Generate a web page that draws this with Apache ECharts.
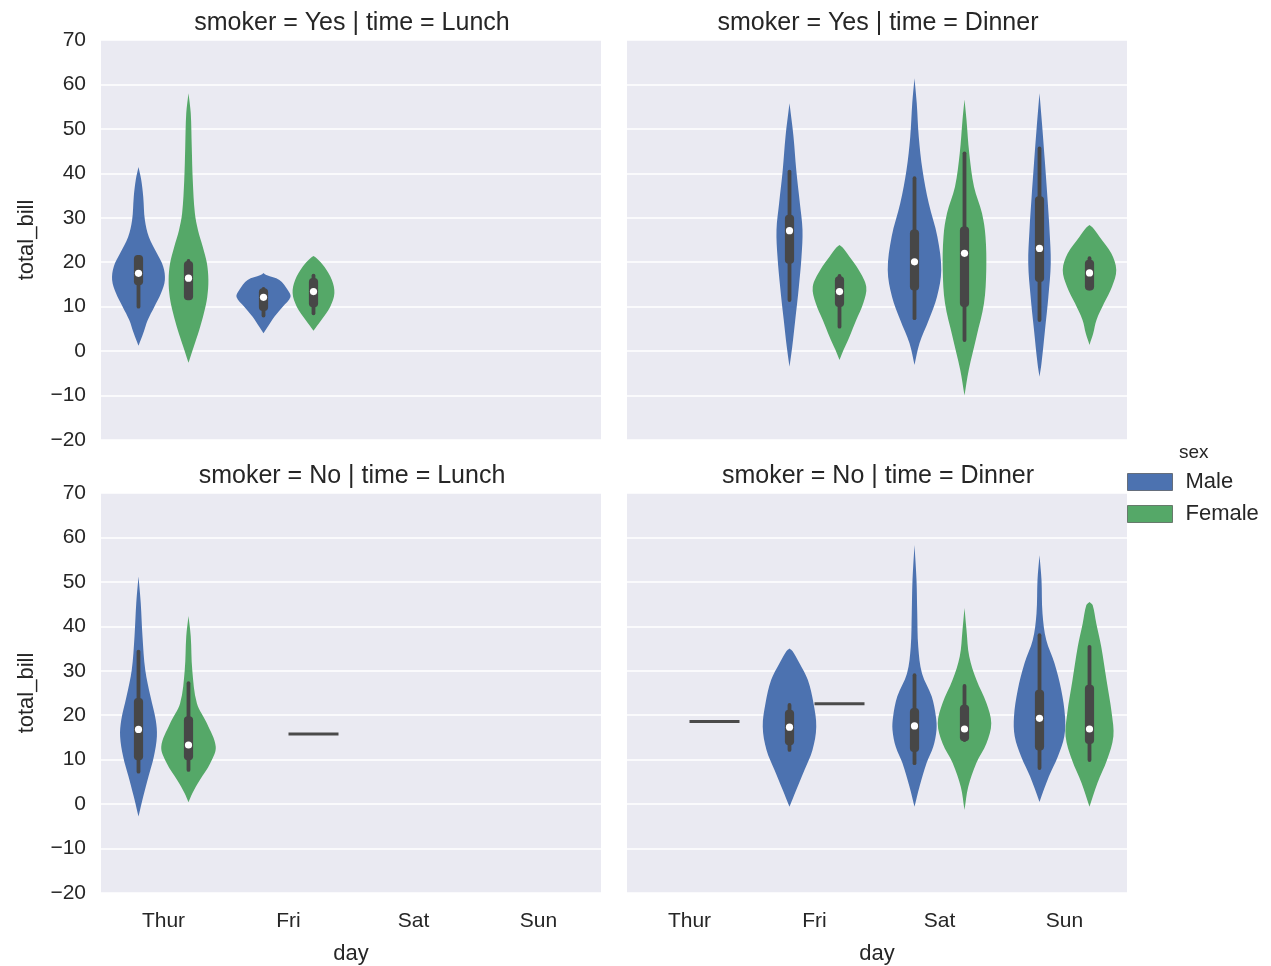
<!DOCTYPE html>
<html>
<head>
<meta charset="utf-8">
<title>total_bill by day, sex, smoker and time</title>
<script src="https://cdn.jsdelivr.net/npm/echarts@6/dist/echarts.min.js"></script>
<style>
  html, body { margin: 0; padding: 0; background: #ffffff; }
  #chart { width: 1271px; height: 966px; }
</style>
</head>
<body>
<div id="chart"></div>
<script>
// Categories and facets
const days = ['Thur', 'Fri', 'Sat', 'Sun'];
const sexes = ['Male', 'Female'];
const panelTitles = [
  'smoker = Yes | time = Lunch',
  'smoker = Yes | time = Dinner',
  'smoker = No | time = Lunch',
  'smoker = No | time = Dinner'
];
const yTicks = { min: -20, max: 70, step: 10 };

// Density outlines: [total_bill, half-width as % of one day's band]
const yesLunchThurMale = [[41.4,0],[38.5,2.2],[34.7,3.8],[29.5,5.1],[25.7,8.3],[22,14.7],[19,19.8],[16,21.1],[13,18],[10,12.7],[7,7.4],[4,3.8],[1.2,0]];
const yesLunchThurFemale = [[58,0],[53.5,1.8],[46,2.6],[38.5,3.4],[31,5.1],[27.2,7.6],[23.5,11.4],[19.8,14.7],[16,15.9],[12.2,15],[8.5,12.3],[4.75,8.6],[1,4.2],[-2.6,0]];
const yesLunchFriMale = [[17.6,0],[17.1,2.3],[16,12.7],[13.75,19.4],[12.2,21.6],[10,15.4],[7.75,8.7],[5.5,3.4],[4,0]];
const yesLunchFriFemale = [[21.4,0],[20.9,2.5],[19,8.7],[16,14.7],[13,16.7],[10,13.4],[7,6.3],[4.6,0]];

const yesDinnerFriMale = [[55.75,0],[48.25,3.2],[40.75,5.4],[33.25,8.3],[27.25,10.4],[21.25,9.6],[14.5,7.5],[7,4.6],[1,2.2],[-3.5,0]];
const yesDinnerFriFemale = [[23.9,0],[23.3,2.5],[21.25,8],[18.25,15.4],[14.5,21.4],[10.75,19],[7,13.4],[3.25,8],[0.25,3.2],[-2,0]];
const yesDinnerSatMale = [[61.4,0],[55.75,1.8],[48.25,3.4],[40.75,6.4],[33.25,11.4],[25.75,18.3],[18.25,21.4],[12.25,18],[7,11.4],[1.75,4],[-3.1,0]];
const yesDinnerSatFemale = [[56.6,0],[52,1.6],[44.5,3.8],[37,7.6],[31,14],[25.75,16.8],[18.25,17.4],[10.75,15.6],[3.25,9.6],[-4.25,3.4],[-10,0]];
const yesDinnerSunMale = [[58,0],[49.75,2.4],[42.25,4.4],[34.75,6.3],[27.25,8],[19.75,9],[12.25,7.1],[4.75,4.4],[-2.75,1.6],[-5.75,0]];
const yesDinnerSunFemale = [[28.4,0],[27.8,2.5],[25.75,8],[22,17.4],[18.25,21.4],[14.5,18],[10.75,11.6],[7,5.6],[4,3],[1.4,0]];

const noLunchThurMale = [[51.2,0],[45.2,1.8],[37.7,3.2],[30.2,5.4],[24.2,9.6],[18.9,13.8],[15.2,14.7],[10.7,12.3],[6.2,8],[1.7,3.8],[-2.8,0]];
const noLunchThurFemale = [[42.3,0],[37.7,1.8],[30.2,3],[22.7,6.7],[18.2,14.7],[12.9,21.8],[9.2,17.4],[5.4,9.1],[2.4,3],[0.4,0]];

const noDinnerFriMale = [[35,0],[34.4,2.5],[31.7,8],[27.9,14.7],[22.7,19.2],[17.4,21.4],[12.2,18.4],[7.7,12],[3.2,5.4],[-0.6,0]];
const noDinnerSatMale = [[58.3,0],[50.4,1.6],[42.9,2.2],[35.4,3],[29.4,6],[24.2,13.8],[19.7,17.1],[16.7,17.6],[12.9,15],[9.2,9.6],[3.9,4],[-0.6,0]];
const noDinnerSatFemale = [[44.1,0],[39.2,1.6],[33.2,3.8],[27.9,9.6],[22.7,17.6],[18.2,21.4],[13.7,17.6],[9.2,9.4],[3.9,3],[-1.3,0]];
const noDinnerSunMale = [[56,0],[50.4,1.6],[42.9,2.4],[36.9,5.4],[31.7,12],[25.7,17.4],[19.7,20.4],[15.2,19.8],[10.7,14.7],[6.2,7.5],[0.5,0]];
const noDinnerSunFemale = [[45.5,0],[44.8,2.5],[40.7,5.4],[35.4,9.4],[27.9,13.6],[20.4,17.8],[15.2,19.1],[9.9,14],[4.7,6.3],[-0.6,0]];

// Inner boxes: [lower whisker, q1, median, q3, upper whisker]
const yesLunchThurMaleBox = [10, 15.25, 17.5, 21.2, 21.2];
const yesLunchThurFemaleBox = [11.9, 11.9, 16.4, 19.8, 20.3];
const yesLunchFriMaleBox = [8, 9.5, 12.1, 13.7, 14];
const yesLunchFriFemaleBox = [8.5, 10.3, 13.4, 16, 17];
const yesDinnerFriMaleBox = [11.5, 20.1, 27.1, 30.25, 40.4];
const yesDinnerFriFemaleBox = [5.5, 10.4, 13.4, 16.4, 16.9];
const yesDinnerSatMaleBox = [7.4, 14.1, 20.1, 26.9, 38.9];
const yesDinnerSatFemaleBox = [2.5, 10.4, 22, 27.6, 44.5];
const yesDinnerSunMaleBox = [7, 16, 23.1, 34.4, 45.6];
const yesDinnerSunFemaleBox = [14.1, 14.1, 17.6, 20.1, 20.9];
const noLunchThurMaleBox = [7.3, 10.3, 16.8, 23.4, 34.3];
const noLunchThurFemaleBox = [7.7, 10.3, 13.3, 19.3, 27.2];
const noDinnerFriMaleBox = [12.2, 13.7, 17.3, 20.8, 22.3];
const noDinnerSatMaleBox = [9.2, 12.2, 17.6, 21.2, 29];
const noDinnerSatFemaleBox = [14.4, 14.6, 16.9, 21.9, 26.6];
const noDinnerSunMaleBox = [8.1, 12.5, 19.3, 25.3, 38];
const noDinnerSunFemaleBox = [9.9, 14, 16.9, 26.4, 35.4];

// Groups holding one bill only: [panel, day, sex, total_bill]
const singleBills = [
  [2, 'Fri', 'Female', 15.8],
  [3, 'Thur', 'Female', 18.6],
  [3, 'Fri', 'Female', 22.6]
];

// Which outline and box belong to each panel / day / sex
const violins = [
  [0, 'Thur', 'Male', yesLunchThurMale, yesLunchThurMaleBox],
  [0, 'Thur', 'Female', yesLunchThurFemale, yesLunchThurFemaleBox],
  [0, 'Fri', 'Male', yesLunchFriMale, yesLunchFriMaleBox],
  [0, 'Fri', 'Female', yesLunchFriFemale, yesLunchFriFemaleBox],
  [1, 'Fri', 'Male', yesDinnerFriMale, yesDinnerFriMaleBox],
  [1, 'Fri', 'Female', yesDinnerFriFemale, yesDinnerFriFemaleBox],
  [1, 'Sat', 'Male', yesDinnerSatMale, yesDinnerSatMaleBox],
  [1, 'Sat', 'Female', yesDinnerSatFemale, yesDinnerSatFemaleBox],
  [1, 'Sun', 'Male', yesDinnerSunMale, yesDinnerSunMaleBox],
  [1, 'Sun', 'Female', yesDinnerSunFemale, yesDinnerSunFemaleBox],
  [2, 'Thur', 'Male', noLunchThurMale, noLunchThurMaleBox],
  [2, 'Thur', 'Female', noLunchThurFemale, noLunchThurFemaleBox],
  [3, 'Fri', 'Male', noDinnerFriMale, noDinnerFriMaleBox],
  [3, 'Sat', 'Male', noDinnerSatMale, noDinnerSatMaleBox],
  [3, 'Sat', 'Female', noDinnerSatFemale, noDinnerSatFemaleBox],
  [3, 'Sun', 'Male', noDinnerSunMale, noDinnerSunMaleBox],
  [3, 'Sun', 'Female', noDinnerSunFemale, noDinnerSunFemaleBox]
];

// ---- styling ----
const sexColors = { Male: '#4c72b0', Female: '#55a868' };
const innerColor = '#474747';
const textColor = '#262626';
const font = 'Liberation Sans, Arial, sans-serif';
const hueOffset = { Male: -0.2, Female: 0.2 };   // dodge within a day's band
const grids = [
  { left: 101, top: 40, width: 500, height: 400 },
  { left: 627, top: 40, width: 500, height: 400 },
  { left: 101, top: 493, width: 500, height: 400 },
  { left: 627, top: 493, width: 500, height: 400 }
];

function violinRenderer(records) {
  return function (params, api) {
    const rec = records[params.dataIndex];
    const dayIdx = days.indexOf(rec[1]);
    const sex = rec[2];
    const outline = rec[3];
    const box = rec[4];
    const band = api.size([1, 0])[0];
    const cx = api.coord([dayIdx, 0])[0] + hueOffset[sex] * band;
    const right = [], left = [];
    outline.forEach(function (p) {
      const y = api.coord([dayIdx, p[0]])[1];
      const w = p[1] / 100 * band;
      right.push([cx + w, y]);
      left.unshift([cx - w, y]);
    });
    const yOf = function (v) { return api.coord([dayIdx, v])[1]; };
    const q3y = yOf(box[3]), q1y = yOf(box[1]);
    return {
      type: 'group',
      children: [
        {
          type: 'polygon',
          shape: { points: right.concat(left), smooth: 0.35 },
          style: { fill: sexColors[sex], stroke: null }
        },
        {
          type: 'line',
          shape: { x1: cx, y1: yOf(box[0]), x2: cx, y2: yOf(box[4]) },
          style: { stroke: innerColor, lineWidth: 3.8, lineCap: 'round' }
        },
        {
          type: 'rect',
          shape: { x: cx - 4.6, y: q3y - 2, width: 9.2, height: Math.max(q1y - q3y + 4, 4), r: 4 },
          style: { fill: innerColor }
        },
        {
          type: 'circle',
          shape: { cx: cx, cy: yOf(box[2]), r: 3.6 },
          style: { fill: '#ffffff' }
        }
      ]
    };
  };
}

function singleRenderer(records) {
  return function (params, api) {
    const rec = records[params.dataIndex];
    const dayIdx = days.indexOf(rec[1]);
    const band = api.size([1, 0])[0];
    const cx = api.coord([dayIdx, 0])[0] + hueOffset[rec[2]] * band;
    const y = api.coord([dayIdx, rec[3]])[1];
    return {
      type: 'line',
      shape: { x1: cx - 0.2 * band, y1: y, x2: cx + 0.2 * band, y2: y },
      style: { stroke: '#4a4a4a', lineWidth: 3 }
    };
  };
}

const xAxes = grids.map(function (g, i) {
  const bottom = i >= 2;
  return {
    type: 'category', gridIndex: i, data: days,
    axisLine: { show: false }, axisTick: { show: false },
    splitLine: { show: false },
    axisLabel: { show: bottom, fontSize: 21, color: textColor, fontFamily: font, margin: 18 },
    name: bottom ? 'day' : '', nameLocation: 'middle', nameGap: 50,
    nameTextStyle: { fontSize: 22, color: textColor, fontFamily: font }
  };
});

const yAxes = grids.map(function (g, i) {
  const leftCol = i % 2 === 0;
  return {
    type: 'value', gridIndex: i,
    min: yTicks.min, max: yTicks.max, interval: yTicks.step,
    axisLine: { show: false }, axisTick: { show: false },
    splitLine: { show: true, lineStyle: { color: '#ffffff', width: 1.6 } },
    axisLabel: {
      show: leftCol, fontSize: 21, color: textColor, fontFamily: font, margin: 15,
      formatter: function (v) { return v < 0 ? '\u2212' + Math.abs(v) : String(v); }
    },
    name: leftCol ? 'total_bill' : '', nameLocation: 'middle', nameGap: 63,
    nameTextStyle: { fontSize: 22, color: textColor, fontFamily: font }
  };
});

const series = [];
grids.forEach(function (g, p) {
  sexes.forEach(function (sex) {
    const recs = violins.filter(function (v) { return v[0] === p && v[2] === sex; });
    series.push({
      type: 'custom', name: sex, xAxisIndex: p, yAxisIndex: p,
      itemStyle: { color: sexColors[sex] },
      renderItem: violinRenderer(recs),
      data: recs.map(function (v) { return [days.indexOf(v[1]), v[4][2]]; }),
      encode: { x: 0, y: 1 },
      silent: true
    });
  });
  const singles = singleBills.filter(function (s) { return s[0] === p; });
  if (singles.length) {
    series.push({
      type: 'custom', xAxisIndex: p, yAxisIndex: p,
      renderItem: singleRenderer(singles),
      data: singles.map(function (s) { return [days.indexOf(s[1]), s[3]]; }),
      encode: { x: 0, y: 1 },
      silent: true
    });
  }
});

const titles = panelTitles.map(function (t, i) {
  return {
    text: t, left: grids[i].left + grids[i].width / 2 - 4, top: grids[i].top - 34,
    textAlign: 'center',
    textStyle: { fontSize: 25, fontWeight: 'normal', color: textColor, fontFamily: font }
  };
});
titles.push({
  text: 'sex', left: 1174, top: 438,
  textStyle: { fontSize: 19, fontWeight: 'normal', color: textColor, fontFamily: font }
});

const chart = echarts.init(document.getElementById('chart'), null, { renderer: 'canvas' });
chart.setOption({
  animation: false,
  backgroundColor: '#ffffff',
  title: titles,
  grid: grids.map(function (g) {
    return Object.assign({ show: true, backgroundColor: '#eaeaf2', borderWidth: 0 }, g);
  }),
  xAxis: xAxes,
  yAxis: yAxes,
  legend: {
    data: sexes, orient: 'vertical', left: 1122, top: 466,
    icon: 'rect', itemWidth: 45, itemHeight: 17, itemGap: 10,
    itemStyle: { borderColor: 'rgba(50,50,50,0.55)', borderWidth: 1 },
    textStyle: { fontSize: 22, color: textColor, fontFamily: font, padding: [0, 0, 0, 8] },
    selectedMode: false
  },
  series: series
});
</script>
</body>
</html>
